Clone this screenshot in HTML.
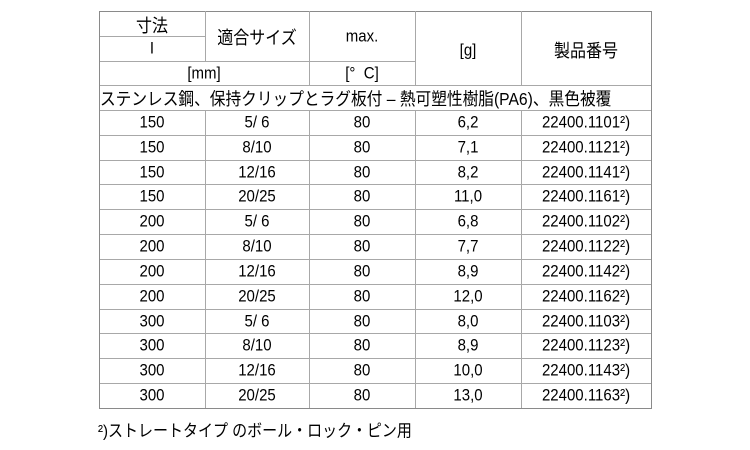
<!DOCTYPE html>
<html><head><meta charset="utf-8">
<style>
html,body{margin:0;padding:0;background:#fff;}
#c{position:relative;width:750px;height:450px;overflow:hidden;background:#fff;}
.h{position:absolute;height:1px;background:#a8a8a8;}
.v{position:absolute;width:1px;background:#a8a8a8;}
.o{background:#8a8a8a;}
.t{position:absolute;display:flex;align-items:center;justify-content:center;font-family:"Liberation Sans","Noto Sans CJK JP",sans-serif;font-size:15px;color:#000;white-space:nowrap;}
.t span{display:inline-block;transform:scaleY(1.12);}
.j{font-size:16px;}
.l{justify-content:flex-start;}
</style></head><body><div id="c">
<!-- horizontal lines -->
<div class="h o" style="left:99px;top:11px;width:553px"></div>
<div class="h" style="left:99px;top:36px;width:106px"></div>
<div class="h" style="left:99px;top:61px;width:316px"></div>
<div class="h" style="left:99px;top:85px;width:553px"></div>
<div class="h" style="left:99px;top:110px;width:553px"></div>
<div class="h" style="left:99px;top:135px;width:553px"></div>
<div class="h" style="left:99px;top:160px;width:553px"></div>
<div class="h" style="left:99px;top:184px;width:553px"></div>
<div class="h" style="left:99px;top:209px;width:553px"></div>
<div class="h" style="left:99px;top:234px;width:553px"></div>
<div class="h" style="left:99px;top:259px;width:553px"></div>
<div class="h" style="left:99px;top:284px;width:553px"></div>
<div class="h" style="left:99px;top:309px;width:553px"></div>
<div class="h" style="left:99px;top:333px;width:553px"></div>
<div class="h" style="left:99px;top:358px;width:553px"></div>
<div class="h" style="left:99px;top:383px;width:553px"></div>
<div class="h o" style="left:99px;top:408px;width:553px"></div>
<!-- vertical lines -->
<div class="v o" style="left:99px;top:11px;height:398px"></div>
<div class="v o" style="left:651px;top:11px;height:398px"></div>
<div class="v" style="left:205px;top:11px;height:50px"></div>
<div class="v" style="left:205px;top:110px;height:298px"></div>
<div class="v" style="left:309px;top:11px;height:74px"></div>
<div class="v" style="left:309px;top:110px;height:298px"></div>
<div class="v" style="left:415px;top:11px;height:74px"></div>
<div class="v" style="left:415px;top:110px;height:298px"></div>
<div class="v" style="left:521px;top:11px;height:74px"></div>
<div class="v" style="left:521px;top:110px;height:298px"></div>
<!-- header text -->
<div class="t j" style="left:99px;top:11px;width:106px;height:25px"><span>寸法</span></div>
<div class="t" style="left:99px;top:36px;width:106px;height:25px"><span>I</span></div>
<div class="t j" style="left:205px;top:11px;width:104px;height:50px"><span>適合サイズ</span></div>
<div class="t" style="left:309px;top:11px;width:106px;height:50px"><span>max.</span></div>
<div class="t" style="left:415px;top:13px;width:106px;height:74px"><span>[g]</span></div>
<div class="t j" style="left:521px;top:12px;width:130px;height:74px"><span>製品番号</span></div>
<div class="t" style="left:99px;top:61px;width:210px;height:24px"><span>[mm]</span></div>
<div class="t" style="left:309px;top:61px;width:106px;height:24px"><span>[°&nbsp;&nbsp;C]</span></div>
<div class="t l" style="left:100px;top:85px;width:550px;height:25px;font-size:15.7px"><span>ステンレス鋼、保持クリップとラグ板付 – 熱可塑性樹脂(PA6)、黒色被覆</span></div>
<!-- data rows -->
<div class="t" style="left:99px;top:110px;width:106px;height:25px"><span>150</span></div>
<div class="t" style="left:205px;top:110px;width:104px;height:25px"><span>5/ 6</span></div>
<div class="t" style="left:309px;top:110px;width:106px;height:25px"><span>80</span></div>
<div class="t" style="left:415px;top:110px;width:106px;height:25px"><span>6,2</span></div>
<div class="t" style="left:521px;top:110px;width:130px;height:25px"><span>22400.1101²)</span></div>

<div class="t" style="left:99px;top:135px;width:106px;height:25px"><span>150</span></div>
<div class="t" style="left:205px;top:135px;width:104px;height:25px"><span>8/10</span></div>
<div class="t" style="left:309px;top:135px;width:106px;height:25px"><span>80</span></div>
<div class="t" style="left:415px;top:135px;width:106px;height:25px"><span>7,1</span></div>
<div class="t" style="left:521px;top:135px;width:130px;height:25px"><span>22400.1121²)</span></div>

<div class="t" style="left:99px;top:160px;width:106px;height:24px"><span>150</span></div>
<div class="t" style="left:205px;top:160px;width:104px;height:24px"><span>12/16</span></div>
<div class="t" style="left:309px;top:160px;width:106px;height:24px"><span>80</span></div>
<div class="t" style="left:415px;top:160px;width:106px;height:24px"><span>8,2</span></div>
<div class="t" style="left:521px;top:160px;width:130px;height:24px"><span>22400.1141²)</span></div>

<div class="t" style="left:99px;top:184px;width:106px;height:25px"><span>150</span></div>
<div class="t" style="left:205px;top:184px;width:104px;height:25px"><span>20/25</span></div>
<div class="t" style="left:309px;top:184px;width:106px;height:25px"><span>80</span></div>
<div class="t" style="left:415px;top:184px;width:106px;height:25px"><span>11,0</span></div>
<div class="t" style="left:521px;top:184px;width:130px;height:25px"><span>22400.1161²)</span></div>

<div class="t" style="left:99px;top:209px;width:106px;height:25px"><span>200</span></div>
<div class="t" style="left:205px;top:209px;width:104px;height:25px"><span>5/ 6</span></div>
<div class="t" style="left:309px;top:209px;width:106px;height:25px"><span>80</span></div>
<div class="t" style="left:415px;top:209px;width:106px;height:25px"><span>6,8</span></div>
<div class="t" style="left:521px;top:209px;width:130px;height:25px"><span>22400.1102²)</span></div>

<div class="t" style="left:99px;top:234px;width:106px;height:25px"><span>200</span></div>
<div class="t" style="left:205px;top:234px;width:104px;height:25px"><span>8/10</span></div>
<div class="t" style="left:309px;top:234px;width:106px;height:25px"><span>80</span></div>
<div class="t" style="left:415px;top:234px;width:106px;height:25px"><span>7,7</span></div>
<div class="t" style="left:521px;top:234px;width:130px;height:25px"><span>22400.1122²)</span></div>

<div class="t" style="left:99px;top:259px;width:106px;height:25px"><span>200</span></div>
<div class="t" style="left:205px;top:259px;width:104px;height:25px"><span>12/16</span></div>
<div class="t" style="left:309px;top:259px;width:106px;height:25px"><span>80</span></div>
<div class="t" style="left:415px;top:259px;width:106px;height:25px"><span>8,9</span></div>
<div class="t" style="left:521px;top:259px;width:130px;height:25px"><span>22400.1142²)</span></div>

<div class="t" style="left:99px;top:284px;width:106px;height:25px"><span>200</span></div>
<div class="t" style="left:205px;top:284px;width:104px;height:25px"><span>20/25</span></div>
<div class="t" style="left:309px;top:284px;width:106px;height:25px"><span>80</span></div>
<div class="t" style="left:415px;top:284px;width:106px;height:25px"><span>12,0</span></div>
<div class="t" style="left:521px;top:284px;width:130px;height:25px"><span>22400.1162²)</span></div>

<div class="t" style="left:99px;top:309px;width:106px;height:24px"><span>300</span></div>
<div class="t" style="left:205px;top:309px;width:104px;height:24px"><span>5/ 6</span></div>
<div class="t" style="left:309px;top:309px;width:106px;height:24px"><span>80</span></div>
<div class="t" style="left:415px;top:309px;width:106px;height:24px"><span>8,0</span></div>
<div class="t" style="left:521px;top:309px;width:130px;height:24px"><span>22400.1103²)</span></div>

<div class="t" style="left:99px;top:333px;width:106px;height:25px"><span>300</span></div>
<div class="t" style="left:205px;top:333px;width:104px;height:25px"><span>8/10</span></div>
<div class="t" style="left:309px;top:333px;width:106px;height:25px"><span>80</span></div>
<div class="t" style="left:415px;top:333px;width:106px;height:25px"><span>8,9</span></div>
<div class="t" style="left:521px;top:333px;width:130px;height:25px"><span>22400.1123²)</span></div>

<div class="t" style="left:99px;top:358px;width:106px;height:25px"><span>300</span></div>
<div class="t" style="left:205px;top:358px;width:104px;height:25px"><span>12/16</span></div>
<div class="t" style="left:309px;top:358px;width:106px;height:25px"><span>80</span></div>
<div class="t" style="left:415px;top:358px;width:106px;height:25px"><span>10,0</span></div>
<div class="t" style="left:521px;top:358px;width:130px;height:25px"><span>22400.1143²)</span></div>

<div class="t" style="left:99px;top:383px;width:106px;height:25px"><span>300</span></div>
<div class="t" style="left:205px;top:383px;width:104px;height:25px"><span>20/25</span></div>
<div class="t" style="left:309px;top:383px;width:106px;height:25px"><span>80</span></div>
<div class="t" style="left:415px;top:383px;width:106px;height:25px"><span>13,0</span></div>
<div class="t" style="left:521px;top:383px;width:130px;height:25px"><span>22400.1163²)</span></div>

<!-- footnote -->
<div class="t l" style="left:98px;top:418px;width:400px;height:24px"><span>²)ストレートタイプ のボール・ロック・ピン用</span></div>
</div></body></html>
